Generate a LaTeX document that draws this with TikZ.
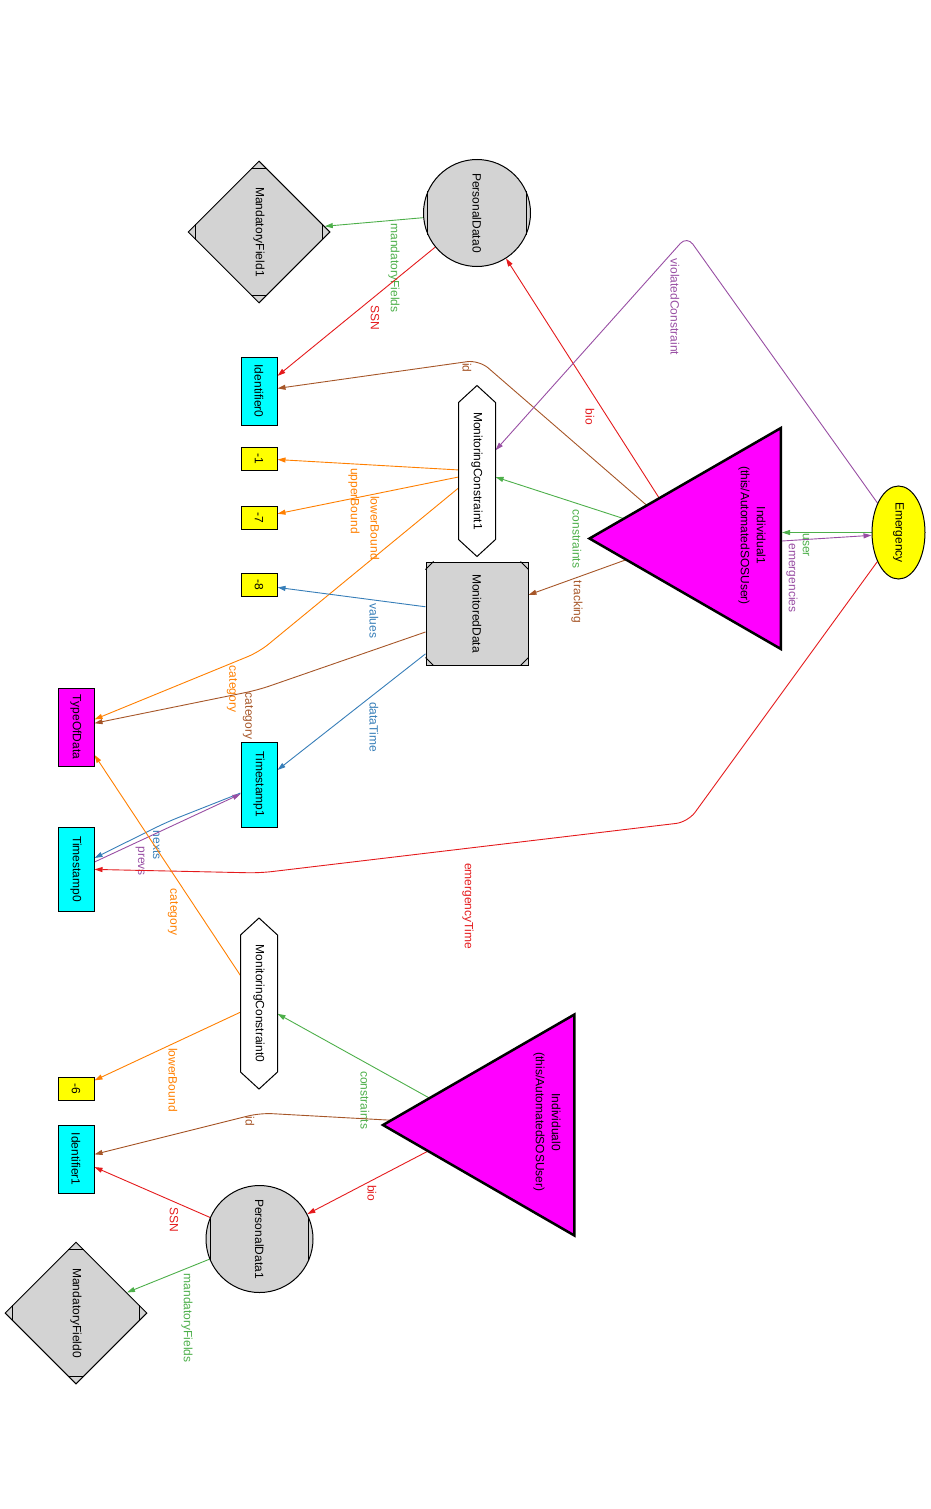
\documentclass[tikz,border=0pt]{standalone}
\usepackage{fontspec}
\setmainfont{Liberation Sans}
\usetikzlibrary{arrows.meta,calc,shapes.geometric}
\definecolor{cred}{HTML}{E41A1C}
\definecolor{cblue}{HTML}{377EB8}
\definecolor{cgreen}{HTML}{4DAF4A}
\definecolor{cpurple}{HTML}{984EA3}
\definecolor{corange}{HTML}{FF7F00}
\definecolor{cbrown}{HTML}{A65628}
\definecolor{cgray}{HTML}{D3D3D3}
\definecolor{ccyan}{HTML}{00FFFF}
\definecolor{cyellow}{HTML}{FFFF00}
\definecolor{cmagenta}{HTML}{FF00FF}
\pgfdeclarelayer{edges}
\pgfsetlayers{edges,main}
\def\vt#1{\rotatebox{-90}{#1}}
\def\mcirclemarks(#1){\draw (#1.156) -- (#1.204); \draw (#1.24) -- (#1.-24);}
\def\mdiamondmarks(#1){\draw ($(#1.north)+(-8,8)$) -- ($(#1.north)+(8,8)$); \draw ($(#1.south)+(-8,-8)$) -- ($(#1.south)+(8,-8)$); \draw ($(#1.west)+(8,-8)$) -- ($(#1.west)+(8,8)$); \draw ($(#1.east)+(-8,-8)$) -- ($(#1.east)+(-8,8)$);}
\def\msquaremarks(#1){\draw ($(#1.north west)+(0,8)$) -- ($(#1.north west)+(8,0)$); \draw ($(#1.north east)+(0,8)$) -- ($(#1.north east)+(-8,0)$); \draw ($(#1.south west)+(0,-8)$) -- ($(#1.south west)+(8,0)$); \draw ($(#1.south east)+(0,-8)$) -- ($(#1.south east)+(-8,0)$);}
\def\hexaoutline(#1){\draw (#1.north west) -- ($(#1.north)+(0,-17)$) -- (#1.north east) -- (#1.south east) -- ($(#1.south)+(0,17)$) -- (#1.south west) -- cycle;}

\begin{document}
\begin{tikzpicture}[x=1pt, y=-1pt, font=\fontsize{12}{16}\selectfont, line width=1pt,
	box/.style={rectangle, draw, minimum width=36pt, inner sep=0pt},
	hexa/.style={rectangle, minimum width=36pt, minimum height=136pt, inner sep=0pt},
	mdia/.style={diamond, draw, fill=cgray, minimum width=142pt, minimum height=142pt, inner sep=0pt},
	mcirc/.style={circle, draw, fill=cgray, minimum size=107pt, inner sep=0pt},
	tri/.style={regular polygon, regular polygon sides=3, shape border rotate=90, draw, line width=2.5pt, fill=cmagenta, minimum size=255pt, inner sep=0pt},
	link/.style={-{Triangle[length=8pt,width=5pt]}, line width=0.9pt, rounded corners=12pt},
	lbl/.style={rotate=-90, inner sep=0pt}]
			%%%%% START %%%%%
			\useasboundingbox (0,0) rectangle (931,1509);
			
			\node[mdia] (md1) at (259,232) {\vt{MandatoryField1}};
			\mdiamondmarks(md1);
			\node[mcirc] (pd0) at (477,213) {\vt{PersonalData0}};
			\mcirclemarks(pd0);
			
			\node[box, fill=ccyan, minimum height=68pt] (id0) at (259,391) {\vt{Identifier0}};
			\node[box, fill=cyellow, minimum height=23pt] (m1) at (259,458.5) {\vt{-1}};
			\node[box, fill=cyellow, minimum height=23pt] (m7) at (259,517.5) {\vt{-7}};
			\node[box, fill=cyellow, minimum height=23pt] (m8) at (259,585) {\vt{-8}};
			
			\node[hexa] (mc1) at (477,471) {\vt{MonitoringConstraint1}};
			\hexaoutline(mc1);
			\node[box, fill=cgray, minimum width=102pt, minimum height=103pt] (md) at (477,613.5) {\vt{MonitoredData}};
			\msquaremarks(md);
			
			\node[tri] (ind1) at (717,538.5) {};
			\coordinate (ind1c) at (685,538.5);
			\node[rotate=-90, align=center] (ind1txt) at (752,535.5) {Individual1\\(this/AutomatedSOSUser)};
			\node[ellipse, draw, fill=cyellow, minimum width=53pt, minimum height=93pt, inner sep=0pt] (em) at (898.5,532.5) {\vt{Emergency}};
			
			\node[box, fill=cmagenta, minimum height=78pt] (tod) at (76,727) {\vt{TypeOfData}};
			\node[box, fill=ccyan, minimum height=85pt] (ts1) at (259,784.5) {\vt{Timestamp1}};
			\node[box, fill=ccyan, minimum height=84pt] (ts0) at (76,869) {\vt{Timestamp0}};
			
			\node[hexa] (mc0) at (259,1003.5) {\vt{MonitoringConstraint0}};
			\hexaoutline(mc0);
			\node[box, fill=cyellow, minimum height=23pt] (m6) at (76,1089) {\vt{-6}};
			\node[box, fill=ccyan, minimum height=68pt] (id1) at (76,1159) {\vt{Identifier1}};
			
			\node[tri] (ind0) at (510.5,1125) {};
			\coordinate (ind0c) at (478,1125);
			\node[rotate=-90, align=center] (ind0txt) at (547,1122) {Individual0\\(this/AutomatedSOSUser)};
			\node[mcirc] (pd1) at (259.5,1239) {\vt{PersonalData1}};
			\mcirclemarks(pd1);
			\node[mdia] (md0) at (76,1313) {\vt{MandatoryField0}};
			\mdiamondmarks(md0);
			
			\begin{pgfonlayer}{edges}
			% upper part
			\draw[link, cgreen] (pd0) -- (md1) node[lbl] at (394,268) {mandatoryFields};
			\draw[link, cred] (pd0) -- (id0) node[lbl] at (375,318) {SSN};
			\draw[link, cred] (ind1c) -- (pd0) node[lbl] at (590,417) {bio};
			\draw[link, cbrown] (ind1c) -- (479,360) -- (id0) node[lbl] at (467,368) {id};
			\draw[link, cpurple, rounded corners=10pt] (em) -- (687,236) -- (mc1) node[lbl] at (675,307) {violatedConstraint};
			\draw[link, corange] (mc1) -- (m1) node[lbl] at (354,501) {upperBound};
			\draw[link, corange] ([yshift=-6pt]mc1.west) -- (m7) node[lbl] at (375,528) {lowerBound};
			\draw[link, corange] ([yshift=-17pt]mc1.west) -- (259,652) -- (tod) node[lbl] at (232,689) {category};
			\draw[link, cgreen] (ind1c) -- (mc1) node[lbl] at (577,539) {constraints};
			\draw[link, cbrown] (ind1c) -- (md) node[lbl] at (577,602) {tracking};
			\draw[link, cgreen] (em.west) -- (em.west -| ind1.east) node[lbl] at (806,545) {user};
			\draw[link, cpurple] ([yshift=-2.5pt]ind1.east) -- (em.186) node[lbl] at (792,578) {emergencies};
			
			% middle part
			\draw[link, cblue] (md) -- (m8) node[lbl] at (374,621) {values};
			\draw[link, cbrown] ([yshift=-18.5pt]md.west) -- (258,690) -- (tod) node[lbl] at (248,716) {category};
			\draw[link, cblue] (md) -- (ts1) node[lbl] at (374,727) {dataTime};
			\draw[link, cblue] ([yshift=-8.5pt]ts1.west) -- (167,822) -- ([yshift=11pt]ts0.east) node[lbl] at (157,845) {nexts};
			\draw[link, cpurple] ([yshift=7pt]ts0.east) -- ([yshift=-9.5pt]ts1.west) node[lbl] at (140,861) {prevs};
			\draw[link, cred] (em) -- (688,822) -- (260,873) -- (ts0) node[lbl] at (468,906) {emergencyTime};
			
			% lower part
			\draw[link, corange] (mc0) -- (tod) node[lbl] at (173,912) {category};
			\draw[link, corange] (mc0) -- (m6) node[lbl] at (173,1080) {lowerBound};
			\draw[link, cgreen] (ind0c) -- (mc0) node[lbl] at (365,1100) {constraints};
			\draw[link, cbrown] (ind0c) -- (260,1113) -- (id1) node[lbl] at (250,1121) {id};
			\draw[link, cred] (ind0c) -- (pd1) node[lbl] at (372,1193) {bio};
			\draw[link, cred] (pd1) -- (id1) node[lbl] at (174,1220) {SSN};
			\draw[link, cgreen] (pd1) -- (md0) node[lbl] at (187,1318) {mandatoryFields};
			\end{pgfonlayer}
			
			%%%%% END %%%%%
\end{tikzpicture}
\end{document}
